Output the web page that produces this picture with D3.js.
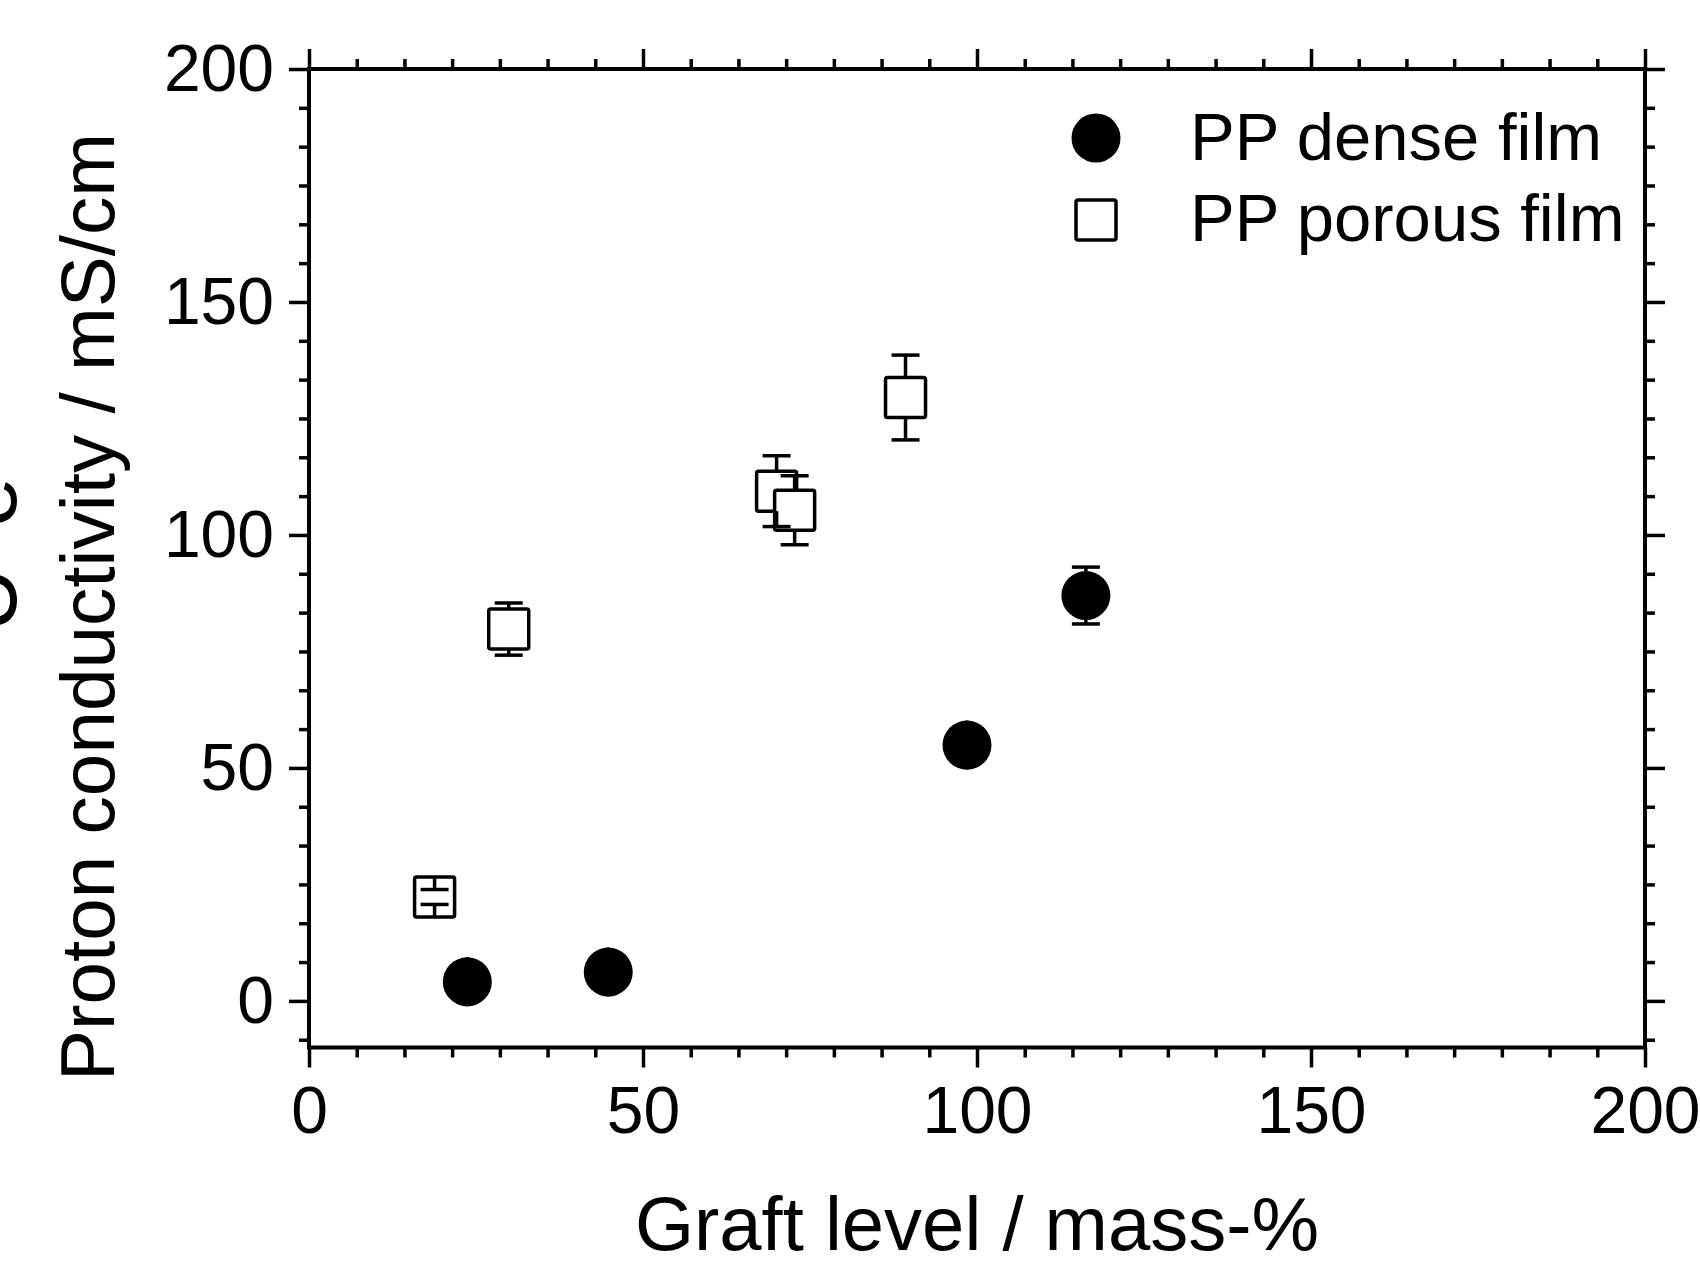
<!DOCTYPE html>
<html>
<head>
<meta charset="utf-8">
<script src="https://cdn.jsdelivr.net/npm/d3@7"></script>
<style>
  html, body { margin: 0; padding: 0; background: #fff; overflow: hidden; }
  text { font-family: "Liberation Sans", Arial, sans-serif; fill: #000; }
</style>
</head>
<body>
<div class="chart-container"></div>
<script>
// data
const seriesNames = ["PP dense film", "PP porous film"];

const denseX = [23.7, 44.8, 98.5, 116.3];
const denseY = [4.1, 6.2, 54.9, 87.0];
const denseErr = [1.5, 1.5, 2.5, 6.1];

const porousX = [18.8, 29.9, 70.0, 72.7, 89.3];
const porousY = [22.3, 79.8, 109.4, 105.3, 129.5];
const porousErr = [1.6, 5.6, 7.6, 7.4, 9.1];

const xTicks = [0, 50, 100, 150, 200];
const yTicks = [0, 50, 100, 150, 200];

const xTitle = "Graft level / mass-%";
const yTitle = "Proton conductivity / mS/cm";

const width = 1700;
const height = 1261;
const frame = { left: 309, right: 1645, top: 69, bottom: 1047.5 };

const x = d3.scaleLinear().domain([0, 200]).range([frame.left, frame.right]);
const y = d3.scaleLinear().domain([-10, 200]).range([frame.bottom, frame.top]);

const xMinor = d3.range(0, 200.001, 50 / 7).filter(v => Math.abs(v / 50 - Math.round(v / 50)) > 1e-6);
const yMinor = d3.range(-50 / 6, 200.001, 50 / 6).filter(v => Math.abs(v / 50 - Math.round(v / 50)) > 1e-6 && v >= -10);

const svg = d3.select(".chart-container").append("svg")
    .attr("width", width)
    .attr("height", height);

// leftover rotated glyphs clipped at the left edge
svg.append("text").attr("transform", "translate(16,600) rotate(-90)")
    .attr("text-anchor", "middle").style("font-size", "90px").text("U");
svg.append("text").attr("transform", "translate(16,502) rotate(-90)")
    .attr("text-anchor", "middle").style("font-size", "90px").text("e");

const styleAxis = (g, withText) => {
    g.select(".domain").remove();
    g.selectAll(".tick line").attr("stroke", "#000").attr("stroke-width", 3.5);
    if (withText) {
        g.selectAll(".tick text").style("font-size", "66px").attr("fill", "#000");
    } else {
        g.selectAll(".tick text").remove();
    }
};

// major ticks
svg.append("g").attr("transform", `translate(0,${frame.bottom})`)
    .call(d3.axisBottom(x).tickValues(xTicks).tickSize(20).tickPadding(19).tickFormat(d3.format("d")))
    .call(g => styleAxis(g, true));
svg.append("g").attr("transform", `translate(${frame.left},0)`)
    .call(d3.axisLeft(y).tickValues(yTicks).tickSize(20).tickPadding(15).tickFormat(d3.format("d")))
    .call(g => styleAxis(g, true));
svg.append("g").attr("transform", `translate(0,${frame.top})`)
    .call(d3.axisTop(x).tickValues(xTicks).tickSize(20))
    .call(g => styleAxis(g, false));
svg.append("g").attr("transform", `translate(${frame.right},0)`)
    .call(d3.axisRight(y).tickValues(yTicks).tickSize(20))
    .call(g => styleAxis(g, false));

// minor ticks
svg.append("g").attr("transform", `translate(0,${frame.bottom})`)
    .call(d3.axisBottom(x).tickValues(xMinor).tickSize(10))
    .call(g => styleAxis(g, false));
svg.append("g").attr("transform", `translate(0,${frame.top})`)
    .call(d3.axisTop(x).tickValues(xMinor).tickSize(10))
    .call(g => styleAxis(g, false));
svg.append("g").attr("transform", `translate(${frame.left},0)`)
    .call(d3.axisLeft(y).tickValues(yMinor).tickSize(10))
    .call(g => styleAxis(g, false));
svg.append("g").attr("transform", `translate(${frame.right},0)`)
    .call(d3.axisRight(y).tickValues(yMinor).tickSize(10))
    .call(g => styleAxis(g, false));

// frame
svg.append("rect")
    .attr("x", frame.left).attr("y", frame.top)
    .attr("width", frame.right - frame.left).attr("height", frame.bottom - frame.top)
    .attr("fill", "none").attr("stroke", "#000").attr("stroke-width", 4);

// axis titles
svg.append("text")
    .attr("x", (frame.left + frame.right) / 2).attr("y", 1250)
    .attr("text-anchor", "middle").style("font-size", "76px")
    .text(xTitle);
svg.append("text")
    .attr("transform", "translate(114,607) rotate(-90)")
    .attr("text-anchor", "middle").style("font-size", "76.5px")
    .text(yTitle);

const dense = denseX.map((d, i) => ({ x: d, y: denseY[i], err: denseErr[i] }));
const porous = porousX.map((d, i) => ({ x: d, y: porousY[i], err: porousErr[i] }));

const circleR = 24.5;
const squareSide = 40;
const capW = 28;

const markers = svg.append("g");
markers.selectAll("circle.dense").data(dense).enter().append("circle")
    .attr("class", "dense")
    .attr("cx", d => x(d.x)).attr("cy", d => y(d.y)).attr("r", circleR)
    .attr("fill", "#000");
markers.selectAll("rect.porous").data(porous).enter().append("rect")
    .attr("class", "porous")
    .attr("x", d => x(d.x) - squareSide / 2).attr("y", d => y(d.y) - squareSide / 2)
    .attr("width", squareSide).attr("height", squareSide).attr("rx", 2)
    .attr("fill", "#fff").attr("stroke", "#000").attr("stroke-width", 3.5);

// error bars drawn from the marker edge out to the cap
const errBars = (data, half) => {
    const g = svg.append("g").attr("stroke", "#000").attr("stroke-width", 3.5);
    data.forEach(d => {
        const cx = x(d.x), cy = y(d.y);
        [-1, 1].forEach(s => {
            const capY = s < 0 ? y(d.y + d.err) : y(d.y - d.err);
            const edgeY = cy + s * half;
            g.append("line").attr("x1", cx).attr("x2", cx).attr("y1", edgeY).attr("y2", capY);
            g.append("line").attr("x1", cx - capW / 2).attr("x2", cx + capW / 2).attr("y1", capY).attr("y2", capY);
        });
    });
};
errBars(dense, circleR);
errBars(porous, squareSide / 2);

// legend
const legend = svg.append("g");
legend.append("circle").attr("cx", 1096).attr("cy", 138).attr("r", circleR).attr("fill", "#000");
legend.append("rect").attr("x", 1096 - squareSide / 2).attr("y", 220 - squareSide / 2)
    .attr("width", squareSide).attr("height", squareSide).attr("rx", 2)
    .attr("fill", "#fff").attr("stroke", "#000").attr("stroke-width", 3.5);
legend.selectAll("text").data(seriesNames).enter().append("text")
    .attr("x", 1190).attr("y", (d, i) => 160 + i * 81)
    .style("font-size", "67px")
    .text(d => d);
</script>
</body>
</html>
